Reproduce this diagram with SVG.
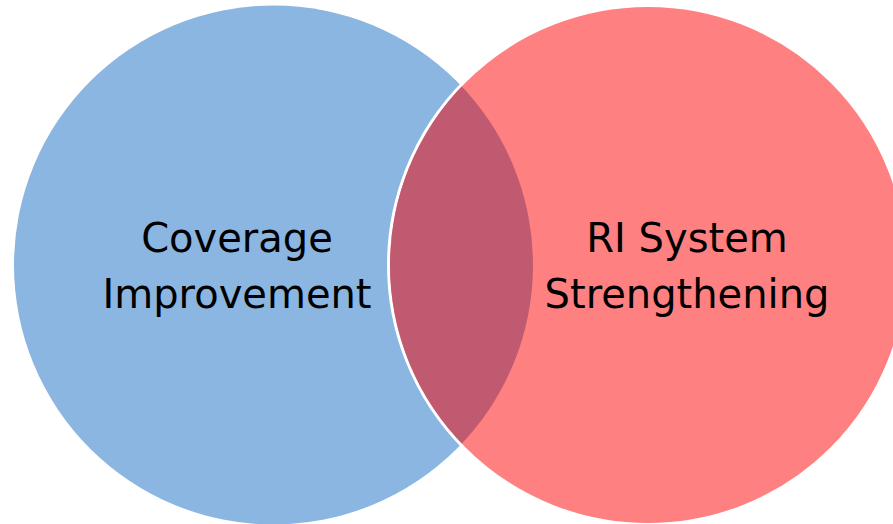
<svg xmlns="http://www.w3.org/2000/svg" width="893" height="524" viewBox="0 0 893 524">
<style>
.lbl{font-family:"DejaVu Sans",sans-serif;font-size:40px;fill:#000;text-anchor:middle}
</style>
<defs>
<clipPath id="clipLeft"><circle cx="273.5" cy="265" r="259.5"/></clipPath>
</defs>
<rect width="893" height="524" fill="#fff"/>
<g id="coverage">
<circle cx="273.5" cy="265" r="259.5" fill="#8AB6E1"/>
</g>
<g id="ri-system">
<circle cx="648" cy="265" r="259.5" fill="#FF8080" stroke="#fff" stroke-width="3"/>
</g>
<g id="overlap">
<circle cx="648" cy="265" r="258" fill="#C05A70" clip-path="url(#clipLeft)"/>
</g>
<g id="labels">
<text class="lbl" x="237" y="252">Coverage</text>
<text class="lbl" x="237" y="308">Improvement</text>
<text class="lbl" x="687" y="252">RI System</text>
<text class="lbl" x="687" y="308">Strengthening</text>
</g>
</svg>
